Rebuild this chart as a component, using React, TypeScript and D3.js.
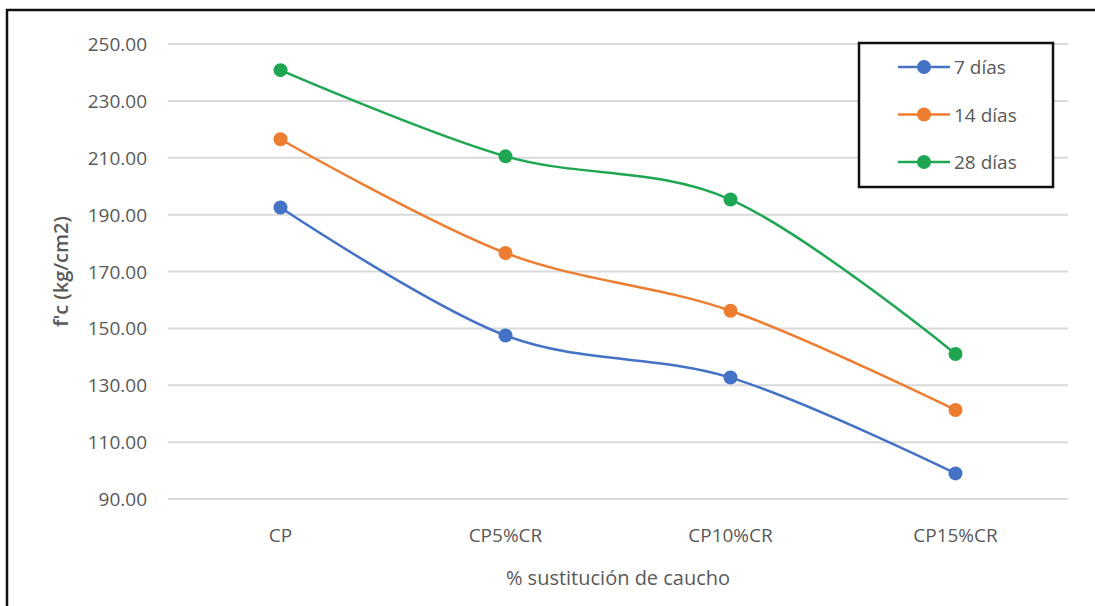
import React from "react";
import * as d3 from "d3";

const categories = ["CP", "CP5%CR", "CP10%CR", "CP15%CR"];
const yTicks = [90, 110, 130, 150, 170, 190, 210, 230, 250];
const dias7 = [192.5, 147.5, 132.7, 99.0];
const dias14 = [216.5, 176.5, 156.2, 121.3];
const dias28 = [240.8, 210.5, 195.3, 141.0];
const seriesNames = ["7 días", "14 días", "28 días"];
const seriesColors = ["#4472C4", "#ED7D31", "#1FA653"];

const W = 1095;
const H = 606;
const FONT = "'Open Sans', 'Noto Sans', sans-serif";

export default function App() {
  const x = d3.scaleBand<string>().domain(categories).range([168, 1068]);
  const y = d3.scaleLinear().domain([90, 250]).range([499, 44]);
  const cx = (c: string) => (x(c) as number) + x.bandwidth() / 2;

  const line = d3
    .line<number>()
    .x((_, i) => cx(categories[i]))
    .y((v) => y(v))
    .curve(d3.curveCardinal.tension(0));

  const series = [dias7, dias14, dias28];

  return (
    <div style={{ position: "fixed", left: 0, top: 0 }}>
      <svg width={W} height={H} style={{ display: "block", background: "#fff" }}>
        {/* outer frame (left and top edges) */}
        <path d={`M7,${H} L7,10 L${W},10`} fill="none" stroke="#111" strokeWidth={2.5} />

        {/* gridlines */}
        {yTicks.map((t) => (
          <line key={t} x1={168} x2={1068} y1={y(t)} y2={y(t)} stroke="#D9D9D9" strokeWidth={2} />
        ))}

        {/* y tick labels */}
        {yTicks.map((t) => (
          <text
            key={"l" + t}
            x={147}
            y={y(t)}
            textAnchor="end"
            dominantBaseline="central"
            fontFamily={FONT}
            fontSize={19}
            fill="#595959"
          >
            {t.toFixed(2)}
          </text>
        ))}

        {/* x tick labels */}
        {categories.map((c) => (
          <text
            key={c}
            x={cx(c)}
            y={535}
            textAnchor="middle"
            dominantBaseline="central"
            fontFamily={FONT}
            fontSize={19}
            fill="#595959"
          >
            {c}
          </text>
        ))}

        {/* axis titles */}
        <text
          x={618}
          y={577}
          textAnchor="middle"
          dominantBaseline="central"
          fontFamily={FONT}
          fontSize={20}
          fill="#595959"
        >
          % sustitución de caucho
        </text>
        <text
          transform={`translate(60,${(y(90) + y(250)) / 2}) rotate(-90)`}
          textAnchor="middle"
          dominantBaseline="central"
          fontFamily={FONT}
          fontSize={20}
          fontWeight={600}
          fill="#595959"
        >
          f'c (kg/cm2)
        </text>

        {/* series */}
        {series.map((s, k) => (
          <g key={seriesNames[k]}>
            <path d={line(s) || ""} fill="none" stroke={seriesColors[k]} strokeWidth={2.5} />
            {s.map((v, i) => (
              <circle key={i} cx={cx(categories[i])} cy={y(v)} r={7} fill={seriesColors[k]} />
            ))}
          </g>
        ))}

        {/* legend */}
        <rect x={859} y={43} width={194} height={144} fill="#fff" stroke="#111" strokeWidth={2.5} />
        {seriesNames.map((n, k) => {
          const ly = 67 + k * 47.5;
          return (
            <g key={n}>
              <line x1={898} x2={950} y1={ly} y2={ly} stroke={seriesColors[k]} strokeWidth={2.5} />
              <circle cx={924} cy={ly} r={7} fill={seriesColors[k]} />
              <text
                x={954}
                y={ly}
                dominantBaseline="central"
                fontFamily={FONT}
                fontSize={19}
                fill="#595959"
              >
                {n}
              </text>
            </g>
          );
        })}
      </svg>
    </div>
  );
}
